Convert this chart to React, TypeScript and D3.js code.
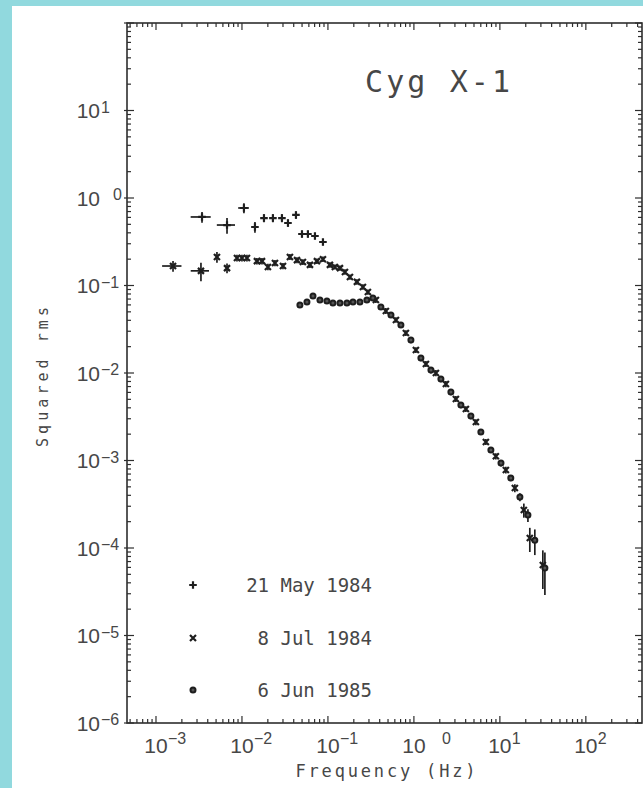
import React from 'react';
import * as d3 from 'd3';

// ---- Power spectra of Cyg X-1 (frequency in Hz, squared fractional rms) ----

// 21 May 1984
const may84Freq = [0.00343, 0.0067, 0.01054, 0.01416, 0.01803, 0.02291, 0.02917, 0.03428, 0.04246, 0.04989, 0.05848, 0.07063, 0.0875];
const may84Power = [0.607, 0.491, 0.769, 0.466, 0.59, 0.59, 0.59, 0.518, 0.64, 0.388, 0.388, 0.368, 0.314];
const may84PowerErr = [0.085, 0.1, 0.1, 0.065, 0.06, 0.06, 0.06, 0.05, 0.06, 0.035, 0.035, 0.03, 0.025];
const may84FreqErr = [0.0009, 0.0016, 0.0015, 0, 0, 0, 0, 0, 0, 0, 0, 0, 0];

// 8 Jul 1984
const jul84Freq = [
  0.001578, 0.003334, 0.005117, 0.0067, 0.00875, 0.01, 0.01143, 0.01493, 0.0171, 0.02004,
  0.02421, 0.03, 0.03614, 0.04365, 0.05117, 0.0618, 0.07447, 0.0875, 0.1055, 0.1205,
  0.138, 0.1578, 0.1803, 0.2173, 0.2553, 0.2917,
  0.3614, 0.472, 0.618, 0.807, 1.055, 1.38, 1.803, 2.356, 3.079, 4.024,
  5.26, 6.874, 8.98, 11.74, 14.94, 19.0, 22.3, 31.6,
];
const jul84Power = [
  0.167, 0.147, 0.212, 0.158, 0.206, 0.206, 0.206, 0.19, 0.19, 0.163,
  0.181, 0.167, 0.212, 0.195, 0.186, 0.172, 0.19, 0.2, 0.172, 0.163,
  0.158, 0.143, 0.125, 0.11, 0.0962, 0.0843,
  0.0683, 0.0512, 0.0404, 0.0286, 0.0183, 0.0127, 0.01, 0.00748, 0.00505, 0.00388,
  0.00275, 0.00163, 0.00112, 0.000778, 0.000485, 0.000272, 0.00013, 0.000064,
];
const jul84PowerErr = [
  0.023, 0.035, 0.03, 0.02, 0.018, 0.018, 0.018, 0.016, 0.016, 0.014,
  0.015, 0.014, 0.017, 0.015, 0.014, 0.013, 0.014, 0.015, 0.012, 0.011,
  0.011, 0.01, 0.009, 0.008, 0.007, 0.006,
  0.005, 0.004, 0.003, 0.0022, 0.0014, 0.001, 0.0008, 0.0006, 0.0004, 0.0003,
  0.00022, 0.00013, 0.00009, 0.00007, 0.00005, 0.00005, 0.00004, 0.00003,
];
const jul84FreqErr = [0.0004, 0.0008];

// 6 Jun 1985
const jun85Freq = [
  0.0472, 0.057, 0.067, 0.0807, 0.0973, 0.1143, 0.138, 0.1663, 0.1954, 0.2355, 0.2838, 0.3334,
  0.413, 0.541, 0.706, 0.923, 1.206, 1.578, 2.061, 2.693, 3.52, 4.6,
  6.01, 7.86, 10.3, 13.4, 17.1, 21.2, 25.5, 33.4,
];
const jun85Power = [
  0.0598, 0.0648, 0.0759, 0.0683, 0.0666, 0.0631, 0.0631, 0.0631, 0.0648, 0.0648, 0.0683, 0.072,
  0.0568, 0.046, 0.0354, 0.0238, 0.0148, 0.0108, 0.00853, 0.00607, 0.00431, 0.00323,
  0.00212, 0.00132, 0.000935, 0.000631, 0.000383, 0.000238, 0.000123, 0.000059,
];
const jun85PowerErr = [
  0.004, 0.004, 0.004, 0.004, 0.004, 0.004, 0.004, 0.004, 0.004, 0.004, 0.004, 0.004,
  0.004, 0.0035, 0.0028, 0.0019, 0.0012, 0.0009, 0.0007, 0.0005, 0.00035, 0.00026,
  0.00017, 0.0001, 0.00008, 0.00005, 0.00004, 0.00004, 0.00004, 0.00003,
];

const legendLabels = ['21 May 1984', '8 Jul 1984', '6 Jun 1985'];
const xTickExponents = [-3, -2, -1, 0, 1, 2];
const yTickExponents = [1, 0, -1, -2, -3, -4, -5, -6];
const title = 'Cyg X-1';
const xTitle = 'Frequency (Hz)';
const yTitle = 'Squared rms';

// ---- layout ----
const W = 643;
const H = 788;
const plot = { left: 127, right: 642, top: 23, bottom: 723 };
const ink = '#1e1e1e';
const textInk = '#474747';
const cyan = '#91d9de';

const x = d3.scaleLog().domain([4.6e-4, 450]).range([plot.left, plot.right]);
const y = d3.scaleLog().domain([1e-6, 1e2]).range([plot.bottom, plot.top]);

type Shape = 'plus' | 'cross' | 'circle';

function markerPath(shape: Shape, cx: number, cy: number, a: number) {
  if (shape === 'plus') return `M${cx - a},${cy}h${2 * a}M${cx},${cy - a}v${2 * a}`;
  if (shape === 'cross') return `M${cx - a},${cy - a}l${2 * a},${2 * a}M${cx - a},${cy + a}l${2 * a},${-2 * a}`;
  return '';
}

function Marker({ shape, cx, cy }: { shape: Shape; cx: number; cy: number }) {
  if (shape === 'circle') {
    return <circle cx={cx} cy={cy} r={2.5} fill="#555" stroke={ink} strokeWidth={2} />;
  }
  const a = shape === 'plus' ? 3.8 : 3;
  return <path d={markerPath(shape, cx, cy, a)} stroke={ink} strokeWidth={2.2} fill="none" />;
}

function Series({
  freq, power, powerErr, freqErr, shape,
}: { freq: number[]; power: number[]; powerErr: number[]; freqErr: number[]; shape: Shape }) {
  return (
    <g>
      {freq.map((f, i) => {
        const p = power[i];
        const dp = powerErr[i] || 0;
        const df = freqErr[i] || 0;
        const cx = x(f);
        const cy = y(p);
        return (
          <g key={i}>
            {dp > 0 && (
              <line x1={cx} x2={cx} y1={y(p + dp)} y2={y(Math.max(p - dp, 1e-9))} stroke={ink} strokeWidth={1.7} />
            )}
            {df > 0 && (
              <line x1={x(Math.max(f - df, 1e-9))} x2={x(f + df)} y1={cy} y2={cy} stroke={ink} strokeWidth={1.7} />
            )}
            <Marker shape={shape} cx={cx} cy={cy} />
          </g>
        );
      })}
    </g>
  );
}

function logTicks(scale: d3.ScaleLogarithmic<number, number>, lo: number, hi: number) {
  const out: { v: number; major: boolean }[] = [];
  const [d0, d1] = scale.domain();
  for (let k = lo; k <= hi; k++) {
    for (let m = 1; m <= 9; m++) {
      const v = m * Math.pow(10, k);
      if (v >= d0 * 0.999 && v <= d1 * 1.001) out.push({ v, major: m === 1 });
    }
  }
  return out;
}

const supLabel = (e: number) => (e < 0 ? `\u2212${-e}` : `${e}`);

export default function App() {
  const xt = logTicks(x, -4, 2);
  const yt = logTicks(y, -6, 2);
  const legendY = [585, 638, 690];
  const legendShapes: Shape[] = ['plus', 'cross', 'circle'];
  const tickFont = '"Liberation Sans", Arial, sans-serif';
  const monoFont = '"DejaVu Sans Mono", monospace';

  return (
    <div style={{ position: 'absolute', left: 0, top: 0 }}>
      <svg width={W} height={H} style={{ display: 'block' }}>
        <rect x={0} y={0} width={W} height={H} fill={cyan} />
        <rect x={12} y={6} width={W - 12} height={H - 6} fill="#ffffff" />

        {/* frame */}
        <rect
          x={plot.left}
          y={plot.top}
          width={plot.right - plot.left}
          height={plot.bottom - plot.top}
          fill="none"
          stroke="#2e2e2e"
          strokeWidth={1.6}
        />

        {/* x ticks, bottom and top */}
        {xt.map((t, i) => {
          const px = x(t.v);
          const len = t.major ? 7 : 4;
          return (
            <g key={`xt${i}`} stroke="#2e2e2e" strokeWidth={1.2}>
              <line x1={px} x2={px} y1={plot.bottom} y2={plot.bottom - len} />
              <line x1={px} x2={px} y1={plot.top} y2={plot.top + len} />
            </g>
          );
        })}
        {/* y ticks, left and right */}
        {yt.map((t, i) => {
          const py = y(t.v);
          const len = t.major ? 7 : 4;
          return (
            <g key={`yt${i}`} stroke="#2e2e2e" strokeWidth={1.2}>
              <line x1={plot.left - (t.major ? 3 : 0)} x2={plot.left + len} y1={py} y2={py} />
              <line x1={plot.right} x2={plot.right - len} y1={py} y2={py} />
            </g>
          );
        })}

        {/* x tick labels */}
        {xTickExponents.map((e) => {
          const px = x(Math.pow(10, e));
          return (
            <g key={`xl${e}`} fill={textInk} fontFamily={tickFont}>
              <text x={px} y={753} fontSize={21} textAnchor="middle">10</text>
              <text x={px + 12 + (e === 0 ? 16 : 0)} y={744} fontSize={16}>{supLabel(e)}</text>
            </g>
          );
        })}

        {/* y tick labels */}
        {yTickExponents.map((e) => {
          const py = y(Math.pow(10, e));
          return (
            <g key={`yl${e}`} fill={textInk} fontFamily={tickFont}>
              <text x={100} y={py + 7.5} fontSize={21} textAnchor="end">10</text>
              <text x={101 + (e === 0 ? 12 : 0)} y={py + 2} fontSize={16}>{supLabel(e)}</text>
            </g>
          );
        })}

        {/* axis titles */}
        <text
          x={(plot.left + plot.right) / 2 + 1}
          y={777}
          fontFamily={monoFont}
          fontSize={17}
          fill={textInk}
          textAnchor="middle"
          textLength={180}
          lengthAdjust="spacing"
        >
          {xTitle}
        </text>
        <text
          transform="translate(48,377) rotate(-90)"
          fontFamily={monoFont}
          fontSize={15}
          fill={textInk}
          textAnchor="middle"
          textLength={140}
          lengthAdjust="spacing"
        >
          {yTitle}
        </text>

        {/* title */}
        <text
          x={365}
          y={92}
          fontFamily={monoFont}
          fontSize={30}
          fill={textInk}
          textLength={145}
          lengthAdjust="spacing"
        >
          {title}
        </text>

        {/* data */}
        <Series freq={may84Freq} power={may84Power} powerErr={may84PowerErr} freqErr={may84FreqErr} shape="plus" />
        <Series freq={jul84Freq} power={jul84Power} powerErr={jul84PowerErr} freqErr={jul84FreqErr} shape="cross" />
        <Series freq={jun85Freq} power={jun85Power} powerErr={jun85PowerErr} freqErr={[]} shape="circle" />

        {/* legend */}
        {legendLabels.map((label, i) => (
          <g key={label}>
            <Marker shape={legendShapes[i]} cx={193} cy={legendY[i]} />
            <text
              x={372}
              y={legendY[i] + 7}
              fontFamily={monoFont}
              fontSize={19}
              fill={textInk}
              textAnchor="end"
            >
              {label}
            </text>
          </g>
        ))}
      </svg>
    </div>
  );
}
